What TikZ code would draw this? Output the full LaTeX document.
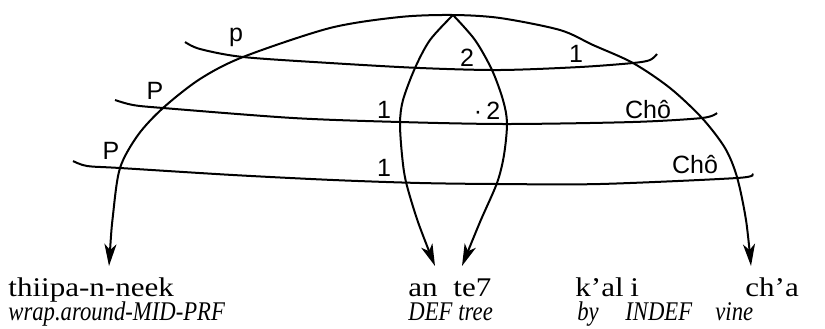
\documentclass[tikz,border=0pt]{standalone}
\usepackage{graphicx}
\usepackage{fontspec}
\setmainfont{Liberation Serif}
\newfontfamily\lblfont{Liberation Sans}
\usetikzlibrary{arrows.meta}
\newcommand{\romw}[1]{\scalebox{1.15}[1]{#1}}
\newcommand{\glw}[1]{\scalebox{0.84}[1]{\itshape #1}}
\begin{document}
\begin{tikzpicture}[x=0.5pt,y=-0.5pt,
  curve/.style={line width=1pt},
  arr/.style={line width=1pt,-{Stealth[length=11pt,width=6pt,inset=3pt]}},
  arrboth/.style={line width=1pt,{Stealth[length=11pt,width=6pt,inset=3pt]}-{Stealth[length=11pt,width=6pt,inset=3pt]}},
  lbl/.style={font=\lblfont\fontsize{12.5}{14}\selectfont, inner sep=0pt},
  word/.style={font=\fontsize{13.5}{16}\selectfont, anchor=base west, inner sep=0pt}]
\useasboundingbox (0,0) rectangle (825,328);

% named points
\coordinate (apex) at (453,15);
\coordinate (tipL) at (109,266);
\coordinate (tipR) at (751,266);
\coordinate (tipA) at (435,266);
\coordinate (tipB) at (462,266);

% words
\node[word] (w1) at (8,296)   {\romw{thiipa-n-neek}};
\node[word] (g1) at (8,320)   {\glw{wrap.around-MID-PRF}};
\node[word] (w2) at (408,296) {\romw{an}};
\node[word] (g2) at (408,320) {\glw{DEF}};
\node[word] (w3) at (453,296) {\romw{te7}};
\node[word] (g3) at (458,320) {\glw{tree}};
\node[word] (w4) at (575,296) {\romw{k'al}};
\node[word] (g4) at (577,320) {\glw{by}};
\node[word] (w5) at (630,296) {\romw{i}};
\node[word] (g5) at (625,320) {\glw{INDEF}};
\node[word] (w6) at (745,296) {\romw{ch'a}};
\node[word] (g6) at (715,320) {\glw{vine}};

% big arc
\draw[arrboth] plot[smooth] coordinates {(tipL) (113,215) (120,168) (138,135) (163,108) (200,79) (243,57) (330,28) (400,17) (apex) (500,18) (560,30) (593,45) (633,63) (670,88) (702,118) (725,148) (737,177) (746,220) (tipR)};

% lens
\draw[arr] plot[smooth] coordinates {(apex) (430,40) (415,68) (403,100) (400,123) (402,155) (406,182) (418,222) (tipA)};
\draw[arr] plot[smooth] coordinates {(apex) (475,40) (492,70) (503,100) (507,123) (504,155) (497,183) (480,222) (tipB)};

% horizontal lines
\draw[curve] plot[smooth] coordinates {(185,42) (200,49) (243,57) (330,63) (420,68) (500,70) (580,67) (633,63) (650,60) (657,54)};
\draw[curve] plot[smooth] coordinates {(115,100) (133,105) (163,108) (293,118) (400,122) (507,124) (633,122) (702,118) (717,113)};
\draw[curve] plot[smooth] coordinates {(73,161) (87,166) (120,168) (233,175) (333,180) (420,183) (497,184) (600,184) (737,178) (752,174)};

% labels
\node[lbl] (p1) at (236,37) {p};
\node[lbl] (p2) at (155,91) {P};
\node[lbl] (p3) at (111,151) {P};
\node[lbl] (n1) at (384,110) {1};
\node[lbl] (n2) at (384,168) {1};
\node[lbl] (n3) at (467,58) {2};
\node[lbl] (n4) at (576,54) {1};
\node[lbl] (n5) at (487,111) {·\,2};
\node[lbl] (c1) at (648,110) {Chô};
\node[lbl] (c2) at (695,165) {Chô};
\end{tikzpicture}
\end{document}
